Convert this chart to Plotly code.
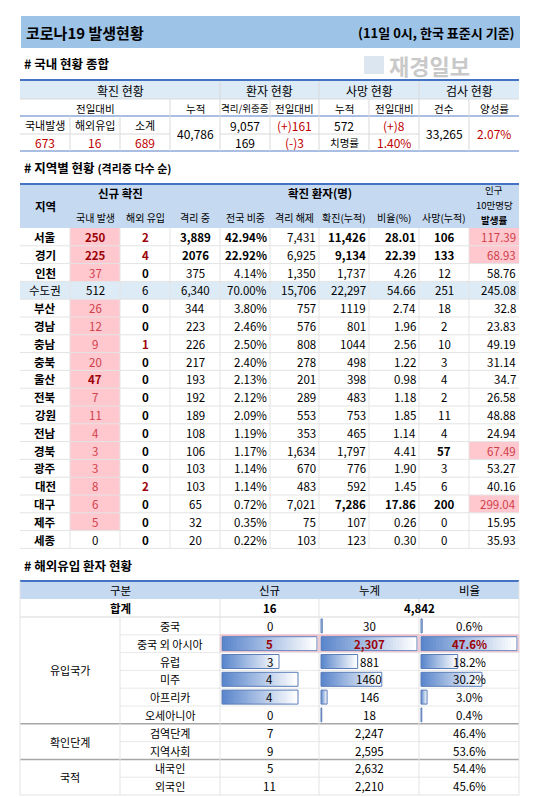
import plotly.graph_objects as go

# ---- data ----
t1_new_labels = ["국내발생", "해외유입", "소계"]
t1_new_values = [673, 16, 689]
t1_cumulative = 40786
t1_isolated = 9057
t1_isolated_change = "(+)161"
t1_severe = 169
t1_severe_change = "(-)3"
t1_deaths = 572
t1_deaths_change = "(+)8"
t1_fatality = 1.40
t1_tests = 33265
t1_positive = 2.07

regions = ["서울", "경기", "인천", "수도권", "부산", "경남", "충남", "충북", "울산",
           "전북", "강원", "전남", "경북", "광주", "대전", "대구", "제주", "세종"]
domestic = [250, 225, 37, 512, 26, 12, 9, 20, 47, 7, 11, 4, 3, 3, 8, 6, 5, 0]
overseas = [2, 4, 0, 6, 0, 0, 1, 0, 0, 0, 0, 0, 0, 0, 2, 0, 0, 0]
isolated = ["3,889", "2076", "375", "6,340", "344", "223", "226", "217", "193",
            "192", "189", "108", "106", "103", "103", "65", "32", "20"]
share = [42.94, 22.92, 4.14, 70.00, 3.80, 2.46, 2.50, 2.40, 2.13, 2.12, 2.09,
         1.19, 1.17, 1.14, 1.14, 0.72, 0.35, 0.22]
released = ["7,431", "6,925", "1,350", "15,706", "757", "576", "808", "278", "201",
            "289", "553", "353", "1,634", "670", "483", "7,021", "75", "103"]
confirmed = ["11,426", "9,134", "1,737", "22,297", "1119", "801", "1044", "498", "398",
             "483", "753", "465", "1,797", "776", "592", "7,286", "107", "123"]
ratio = [28.01, 22.39, 4.26, 54.66, 2.74, 1.96, 2.56, 1.22, 0.98, 1.18, 1.85,
         1.14, 4.41, 1.90, 1.45, 17.86, 0.26, 0.30]
deaths = [106, 133, 12, 251, 18, 2, 10, 3, 4, 2, 11, 4, 57, 3, 6, 200, 0, 0]
per100k = ["117.39", "68.93", "58.76", "245.08", "32.8", "23.83", "49.19", "31.14", "34.7",
           "26.58", "48.88", "24.94", "67.49", "53.27", "40.16", "299.04", "15.95", "35.93"]
pink_per100k = ["서울", "경기", "경북", "대구"]

imp_groups = ["유입국가", "확인단계", "국적"]
imp_items = ["중국", "중국 외 아시아", "유럽", "미주", "아프리카", "오세아니아",
             "검역단계", "지역사회", "내국인", "외국인"]
imp_group_of = [0, 0, 0, 0, 0, 0, 1, 1, 2, 2]
imp_new = [0, 5, 3, 4, 4, 0, 7, 9, 5, 11]
imp_total = [30, 2307, 881, 1460, 146, 18, 2247, 2595, 2632, 2210]
imp_total_txt = ["30", "2,307", "881", "1460", "146", "18", "2,247", "2,595", "2,632", "2,210"]
imp_pct = [0.6, 47.6, 18.2, 30.2, 3.0, 0.4, 46.4, 53.6, 54.4, 45.6]
imp_sum_new = 16
imp_sum_total = "4,842"

# ---- drawing helpers ----
FONT = "Noto Sans CJK KR"
RED = "#C00000"
PINK = "#FFC7CE"
DRED = "#9C0006"
HEAD = "#C5D9F1"
LIGHT = "#DDEBF7"
GRID = "#D9D9D9"
BLUE = "#4472C4"
FS = 11.5

shapes, annots = [], []


def rect(x0, y0, x1, y1, fill=None, line=None, width=1):
    shapes.append(dict(type="rect", x0=x0, y0=y0, x1=x1, y1=y1, xref="x", yref="y",
                       fillcolor=fill or "rgba(0,0,0,0)",
                       line=dict(color=line or "rgba(0,0,0,0)", width=width if line else 0),
                       layer="below"))


def hline(x0, x1, y, color=GRID, width=1):
    shapes.append(dict(type="line", x0=x0, x1=x1, y0=y, y1=y, xref="x", yref="y",
                       line=dict(color=color, width=width)))


def vline(x, y0, y1, color=GRID, width=1):
    shapes.append(dict(type="line", x0=x, x1=x, y0=y0, y1=y1, xref="x", yref="y",
                       line=dict(color=color, width=width)))


def txt(x, y, s, size=FS, color="black", bold=False, anchor="center"):
    if bold:
        s = "<b>" + s + "</b>"
    annots.append(dict(x=x, y=y, text=s, xref="x", yref="y", showarrow=False,
                       xanchor=anchor, yanchor="middle", borderpad=0,
                       font=dict(family=FONT, size=size, color=color)))


def cell_text(x0, x1, y, s, align="center", **kw):
    if align == "center":
        txt((x0 + x1) / 2, y, s, anchor="center", **kw)
    elif align == "right":
        txt(x1 - 2, y, s, anchor="right", **kw)
    else:
        txt(x0 + 2, y, s, anchor="left", **kw)


def mix(c1, c2, t):
    a = [int(c1[i:i + 2], 16) for i in (1, 3, 5)]
    b = [int(c2[i:i + 2], 16) for i in (1, 3, 5)]
    return "rgb(%d,%d,%d)" % tuple(round(a[k] + (b[k] - a[k]) * t) for k in range(3))


def gradient_bar(x0, length, yc):
    if length <= 0:
        return
    n = 32
    for i in range(n):
        a = x0 + length * i / n
        b = min(x0 + length, x0 + length * (i + 1) / n + 0.8)
        rect(a, yc - 7, b, yc + 7, fill=mix("#5A86CC", "#FFFFFF", i / (n - 1)))
    shapes.append(dict(type="rect", x0=x0, x1=x0 + length, y0=yc - 7, y1=yc + 7,
                       xref="x", yref="y", line=dict(color="#5B7DB8", width=1),
                       fillcolor="rgba(0,0,0,0)", layer="below"))


L, R = 12, 511

# ---- title ----
rect(13, 8, 512, 40, fill="#9DC3E6")
txt(17, 24, "코로나19 발생현황", size=15, bold=True, anchor="left")
txt(508, 24, "(11일 0시, 한국 표준시 기준)", size=13, bold=True, anchor="right")
txt(380, 57, "재경일보", size=22, color="#C9C9C9", bold=True, anchor="left")
rect(356, 48, 376, 66, fill="#DCE6F0")

# ---- table 1 ----
txt(15, 55, "# 국내 현황 종합", size=12.5, bold=True, anchor="left")
c1 = [12, 62, 112, 162, 212, 262, 311, 361, 411, 461, 511]
rect(L, 73, R, 91, fill=LIGHT)
hline(L, R, 72, BLUE, 2)
hline(L, R, 91)
hline(L, R, 108, "#8EA9DB", 1.5)
hline(L, R, 143, "#8EA9DB", 1.5)
for x in [212, 311, 411]:
    vline(x, 73, 143)
for x in [162, 262, 361, 461]:
    vline(x, 91, 143)
for x in [62, 112]:
    vline(x, 108, 143)
hline(L, 162, 126)
hline(212, 411, 126)
for (a, b, s) in [(12, 212, "확진 현황"), (212, 311, "환자 현황"), (311, 411, "사망 현황"), (411, 511, "검사 현황")]:
    cell_text(a, b, 82, s, size=12)
for (a, b, s) in [(12, 162, "전일대비"), (162, 212, "누적"), (212, 262, "격리/위중증"), (262, 311, "전일대비"),
                  (311, 361, "누적"), (361, 411, "전일대비"), (411, 461, "건수"), (461, 511, "양성률")]:
    cell_text(a, b, 100, s, size=10.5 if s != "격리/위중증" else 9.5)
for i in range(3):
    cell_text(c1[i], c1[i + 1], 117, t1_new_labels[i], size=11)
    cell_text(c1[i], c1[i + 1], 134, f"{t1_new_values[i]:,}", size=12, color=RED)
cell_text(162, 212, 125, f"{t1_cumulative:,}", size=12)
cell_text(212, 262, 117, f"{t1_isolated:,}", size=12)
cell_text(262, 311, 117, t1_isolated_change, size=12, color=RED)
cell_text(212, 262, 134, f"{t1_severe:,}", size=12)
cell_text(262, 311, 134, t1_severe_change, size=12, color=RED)
cell_text(311, 361, 117, f"{t1_deaths:,}", size=12)
cell_text(361, 411, 117, t1_deaths_change, size=12, color=RED)
cell_text(311, 361, 134, "치명률", size=10.5)
cell_text(361, 411, 134, f"{t1_fatality:.2f}%", size=12, color=RED)
cell_text(411, 461, 125, f"{t1_tests:,}", size=12)
cell_text(461, 511, 125, f"{t1_positive:.2f}%", size=12, color=RED)

# ---- table 2 ----
txt(15, 159, "# 지역별 현황 <span style='font-size:11px'>(격리중 다수 순)</span>", size=12.5, bold=True, anchor="left")
c2 = [12, 62, 112, 162, 212, 262, 311, 361, 411, 461, 511]
top2, hdr2 = 176, 220
rh = 17.8
rect(L, top2, R, hdr2, fill=HEAD)
hline(L, R, top2, BLUE, 2)
txt(37, 198, "지역", size=11.5, bold=True)
cell_text(62, 162, 185, "신규 확진", size=11.5, bold=True)
cell_text(162, 461, 185, "확진 환자(명)", size=11.5, bold=True)
txt(486, 182, "인구", size=9.5)
txt(486, 197, "10만명당", size=9.5)
txt(486, 212, "발생률", size=9.5, bold=True)
subs = ["국내 발생", "해외 유입", "격리 중", "전국 비중", "격리 해제", "확진(누적)", "비율(%)", "사망(누적)"]
for i, s in enumerate(subs):
    cell_text(c2[i + 1], c2[i + 2], 209, s, size=10)
for i, reg in enumerate(regions):
    y0 = hdr2 + i * rh
    yc = y0 + rh / 2
    metro = reg == "수도권"
    if metro:
        rect(L, y0, R, y0 + rh, fill=LIGHT)
    elif domestic[i] > 0:
        rect(62, y0, 112, y0 + rh, fill=PINK)
    if reg in pink_per100k:
        rect(461, y0, 511, y0 + rh, fill=PINK)
    hline(L, R, y0 + rh, "#E3E3E3")
    big = reg in ["서울", "경기"]
    cell_text(12, 62, yc, reg, size=FS, bold=not metro)
    dcol = "black" if metro or domestic[i] == 0 else DRED if domestic[i] >= 40 else "#D0404A"
    cell_text(62, 112, yc, str(domestic[i]), color=dcol, bold=domestic[i] >= 40 and not metro)
    ocol = DRED if overseas[i] > 0 and not metro else "black"
    cell_text(112, 162, yc, str(overseas[i]), color=ocol, bold=not metro)
    cell_text(162, 212, yc, isolated[i], bold=big)
    cell_text(212, 262, yc, f"{share[i]:.2f}%", bold=big, align="right")
    cell_text(262, 311, yc, released[i], align="right")
    b2 = big or reg == "대구"
    cell_text(311, 361, yc, confirmed[i], bold=b2, align="right")
    cell_text(361, 411, yc, f"{ratio[i]:.2f}", bold=b2, align="right")
    cell_text(411, 461, yc, str(deaths[i]), bold=b2 or reg == "경북")
    pcol = "#D0404A" if reg in pink_per100k else "black"
    cell_text(461, 511, yc, per100k[i], color=pcol, align="right")
bot2 = hdr2 + len(regions) * rh
for x in c2[1:-1]:
    vline(x, hdr2, bot2, "#E3E3E3")

# ---- table 3 ----
txt(15, 557, "# 해외유입 환자 현황", size=12.5, bold=True, anchor="left")
top3 = 573
rect(L, top3, R, top3 + 18, fill=HEAD)
hline(L, R, top3, BLUE, 2)
for (a, b, s) in [(12, 212, "구분"), (212, 311, "신규"), (311, 411, "누계"), (411, 511, "비율")]:
    cell_text(a, b, top3 + 9, s, size=11.5)
sum_y0 = top3 + 18
hline(L, R, sum_y0 + 18)
cell_text(12, 212, sum_y0 + 9, "합계", size=11.5, bold=True)
cell_text(212, 311, sum_y0 + 9, str(imp_sum_new), size=11.5, bold=True)
cell_text(311, 511, sum_y0 + 9, imp_sum_total, size=11.5, bold=True)
rows_y0 = sum_y0 + 18
rh3 = 17.8
max_new = max(imp_new[:6])
max_tot = max(imp_total[:6])
max_pct = max(imp_pct[:6])
for i, item in enumerate(imp_items):
    y0 = rows_y0 + i * rh3
    yc = y0 + rh3 / 2
    hl = item == "중국 외 아시아"
    cell_text(112, 212, yc, item, size=11)
    if imp_group_of[i] == 0:
        gradient_bar(214, 95 * imp_new[i] / max_new, yc)
        gradient_bar(313, 96 * imp_total[i] / max_tot, yc)
        gradient_bar(413, 96 * imp_pct[i] / max_pct, yc)
    col = DRED if hl else "black"
    cell_text(212, 311, yc, str(imp_new[i]), size=11.5, color=col, bold=hl)
    cell_text(311, 411, yc, imp_total_txt[i], size=11.5, color=col, bold=hl)
    cell_text(411, 511, yc, f"{imp_pct[i]:.1f}%", size=11.5, color=col, bold=hl)
    if hl:
        for a, b in [(212, 311), (311, 411), (411, 511)]:
            shapes.append(dict(type="rect", x0=a + 0.5, x1=b - 0.5, y0=y0 + 0.5, y1=y0 + rh3 - 0.5,
                               xref="x", yref="y", line=dict(color="#F2B8C6", width=1.5)))
    if i < len(imp_items) - 1:
        if imp_group_of[i + 1] != imp_group_of[i]:
            hline(L, R, y0 + rh3, "#A6A6A6", 1.5)
        else:
            hline(112, R, y0 + rh3, "#E8E8E8")
bot3 = rows_y0 + len(imp_items) * rh3
hline(L, R, bot3, "#E3E3E3")
for g, name in enumerate(imp_groups):
    idx = [k for k in range(len(imp_items)) if imp_group_of[k] == g]
    yc = rows_y0 + (idx[0] + idx[-1] + 1) / 2 * rh3
    cell_text(12, 112, yc, name, size=11)
vline(112, rows_y0, bot3, "#E3E3E3")
for x in [212, 311, 411]:
    vline(x, top3 + 18, bot3, "#E3E3E3")
vline(L, top3, bot3, "#E3E3E3")
vline(R, top3, bot3, "#E3E3E3")

fig = go.Figure()
fig.add_trace(go.Scatter(x=[0, 548], y=[0, 797], mode="markers", marker=dict(opacity=0),
                         hoverinfo="skip", showlegend=False))
fig.update_layout(
    width=548, height=797, margin=dict(l=0, r=0, t=0, b=0),
    paper_bgcolor="white", plot_bgcolor="white",
    xaxis=dict(range=[0, 548], visible=False, fixedrange=True),
    yaxis=dict(range=[797, 0], visible=False, fixedrange=True),
    shapes=shapes, annotations=annots, showlegend=False,
)
fig.write_html("out.html", config={"displayModeBar": False})
